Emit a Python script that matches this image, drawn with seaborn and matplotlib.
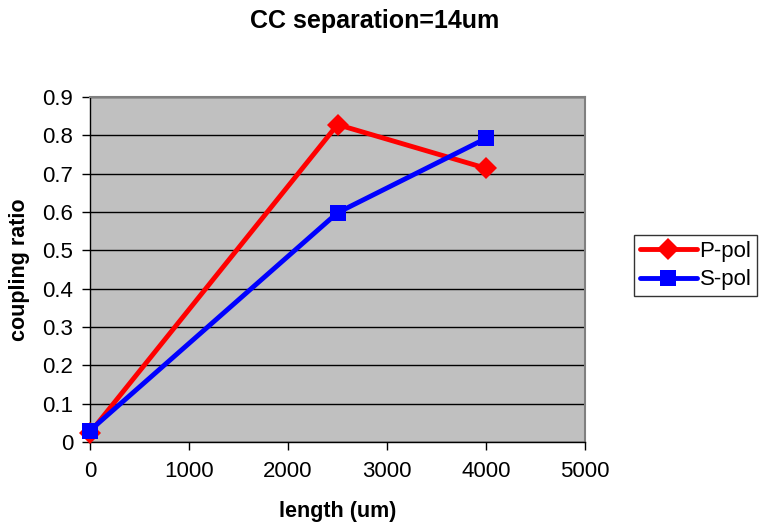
import matplotlib
matplotlib.use("Agg")
import matplotlib.pyplot as plt
import seaborn as sns
import pandas as pd

length = [0, 2500, 4000]
p_pol = [0.024, 0.828, 0.714]
s_pol = [0.030, 0.598, 0.792]
series_names = ["P-pol", "S-pol"]
x_ticks = [0, 1000, 2000, 3000, 4000, 5000]
y_ticks = [0, 0.1, 0.2, 0.3, 0.4, 0.5, 0.6, 0.7, 0.8, 0.9]

df = pd.DataFrame({
    "length": length * 2,
    "value": p_pol + s_pol,
    "series": [series_names[0]] * len(length) + [series_names[1]] * len(length),
})

sns.set_theme(style="white")
plt.rcParams['font.family'] = ['Liberation Sans', 'DejaVu Sans']
plt.rcParams['text.color'] = 'black'
plt.rcParams['axes.labelcolor'] = 'black'
plt.rcParams['xtick.color'] = 'black'
plt.rcParams['ytick.color'] = 'black'

fig = plt.figure(figsize=(7.59, 5.27), dpi=100)
ax = fig.add_axes([90/759, 85/527, 495/759, 345/527])
ax.set_facecolor("#c0c0c0")

sns.lineplot(data=df, x="length", y="value", hue="series", style="series",
             palette={"P-pol": "#ff0000", "S-pol": "#0000ff"},
             markers={"P-pol": "D", "S-pol": "s"}, dashes=False,
             linewidth=3.5, markersize=11, markeredgewidth=0, ax=ax, zorder=3)
for ln in ax.get_lines():
    ln.set_clip_on(False)

ax.set_xlim(0, 5000)
ax.set_ylim(0, 0.9)
ax.set_xticks(x_ticks)
ax.set_xticklabels([str(t) for t in x_ticks])
ax.set_yticks(y_ticks)
ax.set_yticklabels(["0"] + [f"{t:.1f}" for t in y_ticks[1:]])
ax.yaxis.grid(True, color="black", linewidth=1)
ax.set_axisbelow(True)
ax.tick_params(axis="both", labelsize=16, length=6, width=1, color="black",
               direction="out", bottom=True, left=True)
ax.tick_params(axis="x", pad=8)
ax.tick_params(axis="y", pad=6)
for side, sp in ax.spines.items():
    sp.set_color("#808080")
    sp.set_linewidth(1.5)
ax.spines["left"].set_color("black")
ax.spines["left"].set_linewidth(1)
ax.spines["bottom"].set_color("black")
ax.spines["bottom"].set_linewidth(1)

ax.set_xlabel("")
ax.set_ylabel("")
fig.text(338/759, 1 - 512/527, "length (um)", ha="center", va="center",
         fontsize=15.5, fontweight="bold")
fig.text(20/759, 1 - 270/527, "coupling ratio", ha="center", va="center",
         rotation=90, fontsize=15.5, fontweight="bold")
fig.text(375/759, 1 - 21/527, "CC separation=14um", ha="center", va="center",
         fontsize=18, fontweight="bold")

leg = ax.legend(loc="upper left", bbox_to_anchor=((634 - 90)/495, (527 - 235 - 85)/345),
                frameon=True, fancybox=False, edgecolor="black", fontsize=16,
                handlelength=2.6, handletextpad=0.1, borderpad=0.25, labelspacing=0.35,
                borderaxespad=0)
leg.get_frame().set_linewidth(1)
for line in leg.get_lines():
    line.set_linewidth(3.5)

fig.savefig("out.png", dpi=100)
